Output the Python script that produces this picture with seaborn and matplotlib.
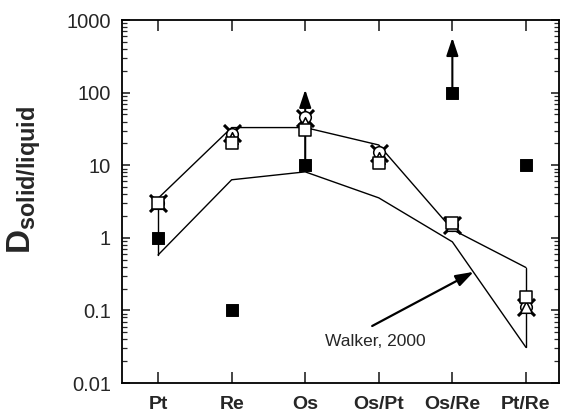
import numpy as np
import pandas as pd
import seaborn as sns
import matplotlib.pyplot as plt

# Categories on the x axis
ratios = ["Pt", "Re", "Os", "Os/Pt", "Os/Re", "Pt/Re"]

# Model envelope (upper and lower bound)
upper_bound = [3.5, 33, 33, 19, 1.3, 0.39]
lower_bound = [0.58, 6.3, 8.1, 3.55, 0.88, 0.031]

# Filled squares (Walker, 2000)
walker_vals = [1.0, 0.1, 10, None, 100, 10]

# Open symbols from experiments
exp_square = [3.0, 20, 31, 10.8, 1.6, 0.155]
exp_triangle = [3.0, 24, 38, 12.6, 1.5, 0.11]
exp_circle = [3.0, 27, 46, 15, 1.5, 0.11]
exp_cross = [3.0, 28, 45, 14.8, 1.5, 0.11]

# Lower limit arrows: (category, start, tip)
arrow_cat = ["Os", "Os/Re"]
arrow_start = [10, 100]
arrow_tip = [110, 570]

sns.set_theme(style="ticks")
plt.rcParams["font.family"] = ["Liberation Sans", "DejaVu Sans"]
plt.rcParams["mathtext.fontset"] = "custom"
plt.rcParams["mathtext.rm"] = "Liberation Sans"
plt.rcParams["mathtext.bf"] = "Liberation Sans:bold"

fig = plt.figure(figsize=(5.61, 4.17), dpi=100)
ax = fig.add_axes([0.2175, 0.0815, 0.779, 0.8705])

env = pd.DataFrame({"ratio": ratios, "upper": upper_bound, "lower": lower_bound})
sns.lineplot(data=env, x="ratio", y="upper", sort=False, color="black", lw=1.0, ax=ax)
sns.lineplot(data=env, x="ratio", y="lower", sort=False, color="black", lw=1.0, ax=ax)

# close the envelope at both ends
for i in [0, len(ratios) - 1]:
    ax.plot([ratios[i], ratios[i]], [lower_bound[i], upper_bound[i]], color="black", lw=1.0)

# arrows for lower limits
for c, s0, s1 in zip(arrow_cat, arrow_start, arrow_tip):
    ax.annotate("", xy=(c, s1), xytext=(c, s0),
                arrowprops=dict(arrowstyle="-|>,head_length=0.9,head_width=0.3",
                                color="black", lw=1.5, shrinkA=0, shrinkB=0))

exp = pd.DataFrame({"ratio": ratios, "sq": exp_square, "tri": exp_triangle,
                    "circ": exp_circle, "x": exp_cross})
sns.scatterplot(data=exp, x="ratio", y="x", marker="x", s=150, color="black",
                linewidth=2.2, ax=ax, zorder=3)
sns.scatterplot(data=exp, x="ratio", y="circ", marker="o", s=70, facecolor="white",
                edgecolor="black", linewidth=1.1, ax=ax, zorder=4)
sns.scatterplot(data=exp, x="ratio", y="tri", marker="^", s=70, facecolor="white",
                edgecolor="black", linewidth=1.1, ax=ax, zorder=5)
sns.scatterplot(data=exp, x="ratio", y="sq", marker="s", s=70, facecolor="white",
                edgecolor="black", linewidth=1.1, ax=ax, zorder=6)

walker = pd.DataFrame({"ratio": ratios, "D": walker_vals}).dropna()
sns.scatterplot(data=walker, x="ratio", y="D", marker="s", s=70, color="black",
                edgecolor="black", ax=ax, zorder=7)

ax.annotate("", xy=(4.29, 0.34), xytext=(2.91, 0.061),
            arrowprops=dict(arrowstyle="-|>,head_length=0.9,head_width=0.3",
                            color="black", lw=1.6, shrinkA=0, shrinkB=0))
ax.text(2.27, 0.037, "Walker, 2000", fontsize=12.5, va="center", ha="left")

ax.set_yscale("log")
ax.set_ylim(0.01, 1000)
ax.set_xlim(-0.49, 5.45)
ax.set_yticks([0.01, 0.1, 1, 10, 100, 1000])
ax.set_yticklabels(["0.01", "0.1", "1", "10", "100", "1000"], fontsize=14.5)
ax.set_xticks(range(len(ratios)))
ax.set_xticklabels(ratios, fontsize=14, fontweight="bold")
ax.tick_params(axis="x", which="major", direction="in", length=8, width=1.2,
               top=True, bottom=True, pad=9)
ax.tick_params(axis="y", which="major", direction="in", length=6, width=1.2,
               left=True, right=True, pad=8)
ax.tick_params(axis="y", which="minor", direction="in", length=3.5, width=0.9,
               left=True, right=True)
for sp in ax.spines.values():
    sp.set_linewidth(1.3)
    sp.set_color("black")

ax.set_xlabel("")
ax.set_ylabel(r"$\mathbf{D}_{\mathbf{solid/liquid}}$", fontsize=24)
ax.yaxis.set_label_coords(-0.18, 0.56)

fig.savefig("out.png", dpi=100)
